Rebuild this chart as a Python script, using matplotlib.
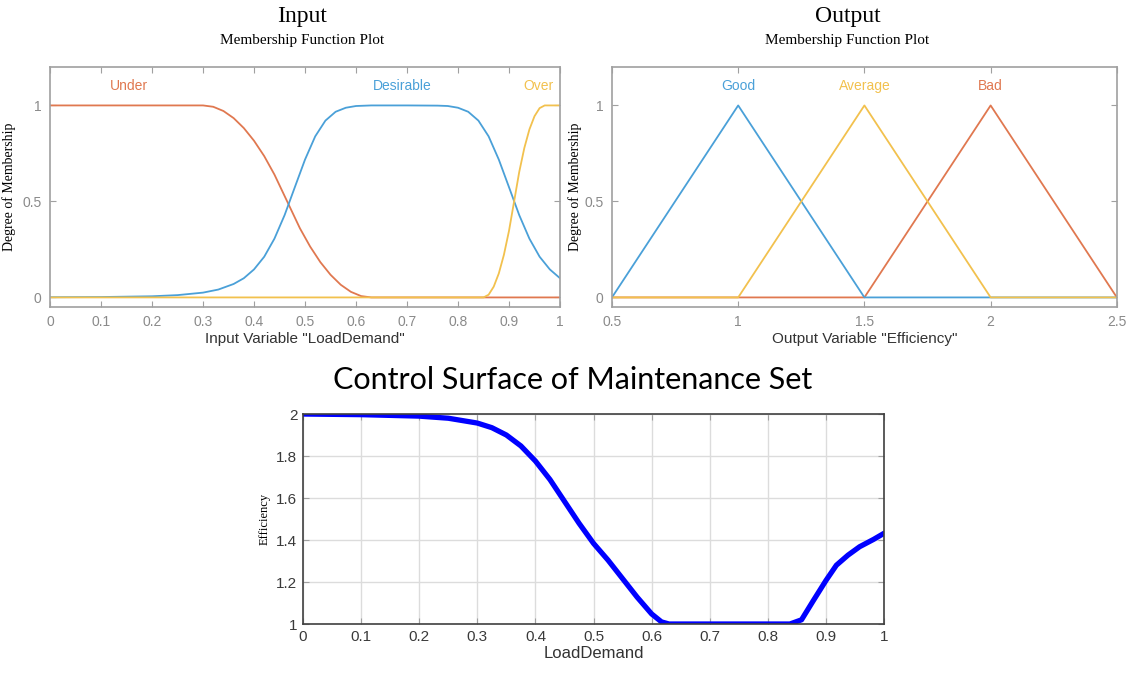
import matplotlib.pyplot as plt

# ---- input membership functions ----
under_x = [0, 0.3, 0.32, 0.34, 0.36, 0.38, 0.4, 0.42, 0.44, 0.465, 0.49, 0.51, 0.53,
           0.55, 0.57, 0.59, 0.61, 0.63, 1.0]
under = [1, 1, 0.993, 0.971, 0.934, 0.882, 0.816, 0.736, 0.64, 0.5, 0.36, 0.265, 0.184,
         0.118, 0.066, 0.029, 0.007, 0, 0]
desir_x = [0, 0.1, 0.2, 0.25, 0.3, 0.33, 0.36, 0.38, 0.4, 0.42, 0.44, 0.46, 0.48, 0.5,
           0.52, 0.54, 0.56, 0.58, 0.6, 0.63, 0.7, 0.76, 0.78, 0.8, 0.82, 0.84, 0.86,
           0.88, 0.9, 0.92, 0.94, 0.96, 0.98, 1.0]
desirable = [0.001, 0.002, 0.006, 0.012, 0.025, 0.041, 0.07, 0.1, 0.146, 0.212, 0.306,
             0.429, 0.574, 0.718, 0.839, 0.921, 0.967, 0.988, 0.997, 1.0, 1.0, 0.999,
             0.997, 0.988, 0.967, 0.921, 0.839, 0.718, 0.574, 0.429, 0.306, 0.212,
             0.146, 0.1]
over_x = [0, 0.85, 0.86, 0.87, 0.88, 0.89, 0.9, 0.91, 0.92, 0.93, 0.94, 0.95, 0.96, 0.97, 1.0]
over = [0, 0, 0.014, 0.056, 0.125, 0.222, 0.347, 0.5, 0.653, 0.778, 0.875, 0.944, 0.986, 1, 1]
in_names = ['Under', 'Desirable', 'Over']
in_label_x = [0.155, 0.69, 0.957]

# ---- output membership functions ----
eff_x = [0.5, 1.0, 1.5, 2.0, 2.5]
good = [0, 1, 0, 0, 0]
average = [0, 0, 1, 0, 0]
bad = [0, 0, 0, 1, 0]
out_names = ['Good', 'Average', 'Bad']
out_label_x = [1.0, 1.5, 2.0]

# ---- control surface ----
surf_x = [0, 0.1, 0.2, 0.25, 0.3, 0.325, 0.35, 0.375, 0.4, 0.425, 0.45, 0.475, 0.5,
          0.525, 0.55, 0.575, 0.6, 0.617, 0.63, 0.65, 0.7, 0.8, 0.838, 0.858, 0.878,
          0.9, 0.918, 0.938, 0.958, 0.982, 1.0]
surf_y = [2.0, 1.997, 1.99, 1.98, 1.957, 1.935, 1.90, 1.848, 1.776, 1.688, 1.584, 1.48,
          1.384, 1.304, 1.216, 1.128, 1.048, 1.01, 1.0, 1.0, 1.0, 1.0, 1.0, 1.02, 1.11,
          1.207, 1.28, 1.328, 1.368, 1.403, 1.432]

c_red = '#E07850'
c_blue = '#4AA0D8'
c_yel = '#F2C14E'
tick_grey = '#8a8a8a'
serif = 'Liberation Serif'
sans = 'Liberation Sans'

fig = plt.figure(figsize=(11.27, 6.73), dpi=100)


def matlab_box(ax, tc):
    ax.tick_params(direction='in', top=True, right=True, length=4, width=0.8,
                   colors='#a0a0a0', labelcolor=tc, labelsize=10, pad=6)
    for s in ax.spines.values():
        s.set_color('#a0a0a0')
        s.set_linewidth(1.2)
    for lab in ax.get_xticklabels() + ax.get_yticklabels():
        lab.set_family(sans)


# Input panel
ax1 = fig.add_axes([0.0444, 0.5438, 0.4525, 0.3566])
ax1.plot(under_x, under, color=c_red, lw=1.3)
ax1.plot(desir_x, desirable, color=c_blue, lw=1.3)
ax1.plot(over_x, over, color=c_yel, lw=1.3)
for name, xx, col in zip(in_names, in_label_x, [c_red, c_blue, c_yel]):
    ax1.text(xx, 1.1, name, color=col, ha='center', va='center', family=sans, fontsize=10)
ax1.set_xlim(0, 1)
ax1.set_ylim(-0.05, 1.2)
ax1.set_xticks([i / 10 for i in range(11)])
ax1.set_xticklabels(['0', '0.1', '0.2', '0.3', '0.4', '0.5', '0.6', '0.7', '0.8', '0.9', '1'])
ax1.set_yticks([0, 0.5, 1])
ax1.set_yticklabels(['0', '0.5', '1'])
matlab_box(ax1, tick_grey)
ax1.set_xlabel('Input Variable "LoadDemand"', family=sans, fontsize=11, color='#333333', labelpad=2)
ax1.set_ylabel('Degree of Membership', family=serif, fontsize=10)
ax1.yaxis.set_label_coords(-0.066, 0.5)

# Output panel
ax2 = fig.add_axes([0.543, 0.5438, 0.448, 0.3566])
ax2.plot(eff_x, bad, color=c_red, lw=1.3)
ax2.plot(eff_x, good, color=c_blue, lw=1.3)
ax2.plot(eff_x, average, color=c_yel, lw=1.3)
for name, xx, col in zip(out_names, out_label_x, [c_blue, c_yel, c_red]):
    ax2.text(xx, 1.1, name, color=col, ha='center', va='center', family=sans, fontsize=10)
ax2.set_xlim(0.5, 2.5)
ax2.set_ylim(-0.05, 1.2)
ax2.set_xticks(eff_x)
ax2.set_xticklabels(['0.5', '1', '1.5', '2', '2.5'])
ax2.set_yticks([0, 0.5, 1])
ax2.set_yticklabels(['0', '0.5', '1'])
matlab_box(ax2, tick_grey)
ax2.set_xlabel('Output Variable "Efficiency"', family=sans, fontsize=11, color='#333333', labelpad=2)
ax2.set_ylabel('Degree of Membership', family=serif, fontsize=10)
ax2.yaxis.set_label_coords(-0.06, 0.5)

fig.text(0.268, 0.976, 'Input', family=serif, fontsize=17, ha='center', va='center')
fig.text(0.268, 0.94, 'Membership Function Plot', family=serif, fontsize=11, ha='center', va='center')
fig.text(0.752, 0.976, 'Output', family=serif, fontsize=17, ha='center', va='center')
fig.text(0.752, 0.94, 'Membership Function Plot', family=serif, fontsize=11, ha='center', va='center')

# Control surface
ax3 = fig.add_axes([0.2689, 0.0728, 0.5155, 0.312])
ax3.plot(surf_x, surf_y, color='#0000ff', lw=3.8, solid_capstyle='round',
         solid_joinstyle='round')
ax3.set_xlim(0, 1)
ax3.set_ylim(1, 2)
ax3.set_xticks([i / 10 for i in range(11)])
ax3.set_xticklabels(['0', '0.1', '0.2', '0.3', '0.4', '0.5', '0.6', '0.7', '0.8', '0.9', '1'])
ax3.set_yticks([1, 1.2, 1.4, 1.6, 1.8, 2])
ax3.set_yticklabels(['1', '1.2', '1.4', '1.6', '1.8', '2'])
ax3.grid(True, color='#dcdcdc', lw=1)
matlab_box(ax3, '#3a3a3a')
ax3.tick_params(labelsize=11, pad=4)
for s in ax3.spines.values():
    s.set_color('#404040')
ax3.set_xlabel('LoadDemand', family=sans, fontsize=12, color='#333333', labelpad=2)
ax3.set_ylabel('Efficiency', family=serif, fontsize=9)
ax3.yaxis.set_label_coords(-0.056, 0.5)
fig.text(0.508, 0.435, 'Control Surface of Maintenance Set', family='Lato', fontsize=22,
         ha='center', va='center')

fig.savefig('out.png', dpi=100)
